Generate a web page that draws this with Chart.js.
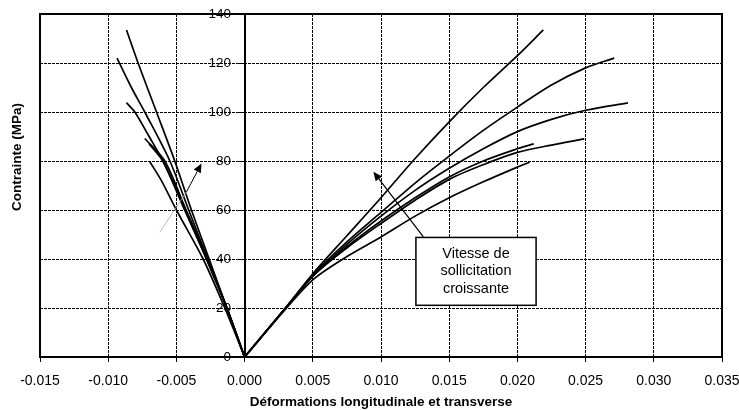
<!DOCTYPE html>
<html>
<head>
<meta charset="utf-8">
<script src="https://cdn.jsdelivr.net/npm/chart.js@4/dist/chart.umd.min.js"></script>
<style>
  html, body { margin: 0; padding: 0; background: #fff; }
  #wrap { width: 739px; height: 410px; }
</style>
</head>
<body>
<div id="wrap"><canvas id="c" width="739" height="410"></canvas></div>
<script>
// Axis ticks
const xTicks = [-0.015, -0.010, -0.005, 0.000, 0.005, 0.010, 0.015, 0.020, 0.025, 0.030, 0.035];
const yTicks = [0, 20, 40, 60, 80, 100, 120, 140];

// Longitudinal strain (positive) vs stress (MPa), one pair per loading rate
const longA_strain = [0, 0.003, 0.005, 0.0075, 0.010, 0.0125, 0.015, 0.0175, 0.020, 0.0219];
const longA_stress = [0, 20, 34, 49.5, 65, 81, 96, 110, 123, 133.5];
const longB_strain = [0, 0.003, 0.005, 0.0075, 0.010, 0.0125, 0.015, 0.0175, 0.020, 0.0225, 0.025, 0.0271];
const longB_stress = [0, 20, 33.5, 47, 59, 71, 82, 92.5, 102, 111, 118, 122];
const longC_strain = [0, 0.003, 0.005, 0.0075, 0.010, 0.0125, 0.015, 0.0175, 0.020, 0.0225, 0.025, 0.0281];
const longC_stress = [0, 20, 33, 46, 57.5, 68, 77, 85, 92, 97, 100.7, 103.7];
const longD_strain = [0, 0.003, 0.005, 0.0075, 0.010, 0.0125, 0.015, 0.0175, 0.020, 0.0225, 0.0249];
const longD_stress = [0, 20, 33, 44.5, 54.5, 64, 72.5, 78.5, 83.5, 86.5, 89];
const longE_strain = [0, 0.003, 0.005, 0.0075, 0.010, 0.0125, 0.015, 0.0175, 0.020, 0.0212];
const longE_stress = [0, 20, 33, 45, 55.5, 65, 73.5, 80, 85, 87];
const longF_strain = [0, 0.003, 0.005, 0.0075, 0.010, 0.0125, 0.015, 0.0175, 0.020, 0.0209];
const longF_stress = [0, 19.5, 31.5, 41, 49, 57.5, 65, 71.5, 77.5, 79.5];

// Transverse strain (negative) vs stress (MPa)
const transA_strain = [0, -0.0013, -0.0026, -0.0039, -0.00512, -0.00646, -0.00781, -0.00866];
const transA_stress = [0, 20, 40, 60, 80, 100, 120, 133.5];
const transB_strain = [0, -0.0013, -0.0027, -0.0041, -0.00548, -0.00732, -0.0083, -0.00935];
const transB_stress = [0, 20, 40, 60, 80, 100, 110, 122];
const transC_strain = [0, -0.0013, -0.0027, -0.0043, -0.00598, -0.0070, -0.00805, -0.00866];
const transC_stress = [0, 20, 40, 60, 80, 90, 100, 103.8];
const transD_strain = [0, -0.0013, -0.0028, -0.0043, -0.00585, -0.00732];
const transD_stress = [0, 20, 40, 60, 80, 89.2];
const transE_strain = [0, -0.0013, -0.0028, -0.0044, -0.0060, -0.0070];
const transE_stress = [0, 20, 40, 60, 80, 87];
const transF_strain = [0, -0.00145, -0.00304, -0.0050, -0.0061, -0.00695];
const transF_stress = [0, 20, 40, 60, 72, 79.7];

const curves = [
  [longA_strain, longA_stress], [longB_strain, longB_stress], [longC_strain, longC_stress],
  [longD_strain, longD_stress], [longE_strain, longE_stress], [longF_strain, longF_stress],
  [transA_strain, transA_stress], [transB_strain, transB_stress], [transC_strain, transC_stress],
  [transD_strain, transD_stress], [transE_strain, transE_stress], [transF_strain, transF_stress]
];

const noteLines = ['Vitesse de', 'sollicitation', 'croissante'];

// Placement of the note and the two arrows, in data units
const notePos = { x0: 0.01256, x1: 0.02137, yTop: 48.8, yBottom: 21.1 };
const arrowRight = { from: [0.01311, 49.0], to: [0.00944, 75.6] };
const arrowLeft = { faint: [-0.00622, 50.9], from: [-0.00426, 67.4], to: [-0.00316, 79.0] };
// stress labels sit just left of the zero-strain axis
const yLabelAnchor = -0.001;

const FONT = '"Liberation Sans", Arial, sans-serif';

const datasets = curves.map(([sx, sy]) => ({
  data: sx.map((v, i) => ({ x: v, y: sy[i] })),
  showLine: true,
  borderColor: '#000',
  borderWidth: 1.7,
  pointRadius: 0,
  tension: 0.3,
  fill: false
}));

function arrow(ctx, x1, y1, x2, y2) {
  const ang = Math.atan2(y2 - y1, x2 - x1);
  const len = 9, half = 4;
  const bx = x2 - len * Math.cos(ang), by = y2 - len * Math.sin(ang);
  ctx.beginPath();
  ctx.moveTo(x1, y1);
  ctx.lineTo(bx, by);
  ctx.stroke();
  ctx.beginPath();
  ctx.moveTo(x2, y2);
  ctx.lineTo(bx + half * Math.sin(ang), by - half * Math.cos(ang));
  ctx.lineTo(bx - half * Math.sin(ang), by + half * Math.cos(ang));
  ctx.closePath();
  ctx.fill();
}

const decorations = {
  id: 'decorations',
  afterDatasetsDraw(chart) {
    const { ctx, chartArea: a, scales: { x, y } } = chart;
    ctx.save();

    // plot frame
    ctx.strokeStyle = '#000';
    ctx.lineWidth = 2;
    ctx.strokeRect(a.left, a.top, a.right - a.left, a.bottom - a.top);

    // left arrow (faint tail, dark head part)
    ctx.strokeStyle = '#aaa';
    ctx.lineWidth = 0.8;
    ctx.beginPath();
    ctx.moveTo(x.getPixelForValue(arrowLeft.faint[0]), y.getPixelForValue(arrowLeft.faint[1]));
    ctx.lineTo(x.getPixelForValue(arrowLeft.from[0]), y.getPixelForValue(arrowLeft.from[1]));
    ctx.stroke();
    ctx.strokeStyle = '#000';
    ctx.fillStyle = '#000';
    ctx.lineWidth = 1;
    arrow(ctx,
      x.getPixelForValue(arrowLeft.from[0]), y.getPixelForValue(arrowLeft.from[1]),
      x.getPixelForValue(arrowLeft.to[0]), y.getPixelForValue(arrowLeft.to[1]));

    // right arrow
    ctx.lineWidth = 1.2;
    arrow(ctx,
      x.getPixelForValue(arrowRight.from[0]), y.getPixelForValue(arrowRight.from[1]),
      x.getPixelForValue(arrowRight.to[0]), y.getPixelForValue(arrowRight.to[1]));

    // note box
    const bx0 = x.getPixelForValue(notePos.x0), bx1 = x.getPixelForValue(notePos.x1);
    const by0 = y.getPixelForValue(notePos.yTop), by1 = y.getPixelForValue(notePos.yBottom);
    ctx.fillStyle = '#fff';
    ctx.fillRect(bx0, by0, bx1 - bx0, by1 - by0);
    ctx.strokeStyle = '#000';
    ctx.lineWidth = 1.5;
    ctx.strokeRect(bx0, by0, bx1 - bx0, by1 - by0);
    ctx.fillStyle = '#000';
    ctx.font = '14.5px ' + FONT;
    ctx.textAlign = 'center';
    ctx.textBaseline = 'middle';
    const cx = (bx0 + bx1) / 2, cy = (by0 + by1) / 2;
    noteLines.forEach((t, i) => ctx.fillText(t, cx, cy + (i - 1) * 17.3));

    // vertical axis title
    ctx.font = 'bold 13.5px ' + FONT;
    ctx.translate(17, 157);
    ctx.rotate(-Math.PI / 2);
    ctx.fillText('Contrainte (MPa)', 0, 0);
    ctx.restore();
  }
};

new Chart(document.getElementById('c'), {
  type: 'scatter',
  data: { datasets },
  plugins: [decorations],
  options: {
    responsive: false,
    devicePixelRatio: 1,
    animation: false,
    events: [],
    layout: { padding: { left: 40, right: 17, top: 14, bottom: 0 } },
    plugins: { legend: { display: false }, tooltip: { enabled: false } },
    scales: {
      x: {
        type: 'linear',
        position: 'bottom',
        min: xTicks[0],
        max: xTicks[xTicks.length - 1],
        afterBuildTicks: s => { s.ticks = xTicks.map(v => ({ value: v })); },
        afterFit: s => { s.height = 53; s.paddingLeft = 0; s.paddingRight = 0; },
        ticks: {
          color: '#000',
          font: { family: FONT, size: 14 },
          padding: 11,
          maxRotation: 0,
          autoSkip: false,
          callback: v => v.toFixed(3)
        },
        grid: { color: '#000', lineWidth: 1, tickLength: 5, tickBorderDash: [5, 0] },
        border: { display: true, color: '#000', width: 2, dash: [3, 1] },
        title: {
          display: true,
          text: 'Déformations longitudinale et transverse',
          color: '#000',
          font: { family: FONT, size: 13.5, weight: 'bold', lineHeight: 0.9 },
          padding: { top: 0, bottom: 2 }
        }
      },
      y: {
        type: 'linear',
        position: { x: 0 },
        min: yTicks[0],
        max: yTicks[yTicks.length - 1],
        afterBuildTicks: s => { s.ticks = yTicks.map(v => ({ value: v })); },
        ticks: { display: false },
        grid: { color: '#000', lineWidth: 1, tickLength: 5, tickBorderDash: [5, 0] },
        border: { display: true, color: '#000', width: 2, dash: [3, 1] }
      },
      yLabels: {
        type: 'linear',
        position: { x: yLabelAnchor },
        min: yTicks[0],
        max: yTicks[yTicks.length - 1],
        afterBuildTicks: s => { s.ticks = yTicks.map(v => ({ value: v })); },
        ticks: {
          color: '#000',
          font: { family: FONT, size: 13.5 },
          padding: 0,
          autoSkip: false
        },
        grid: { display: false },
        border: { display: false }
      }
    }
  }
});
</script>
</body>
</html>
